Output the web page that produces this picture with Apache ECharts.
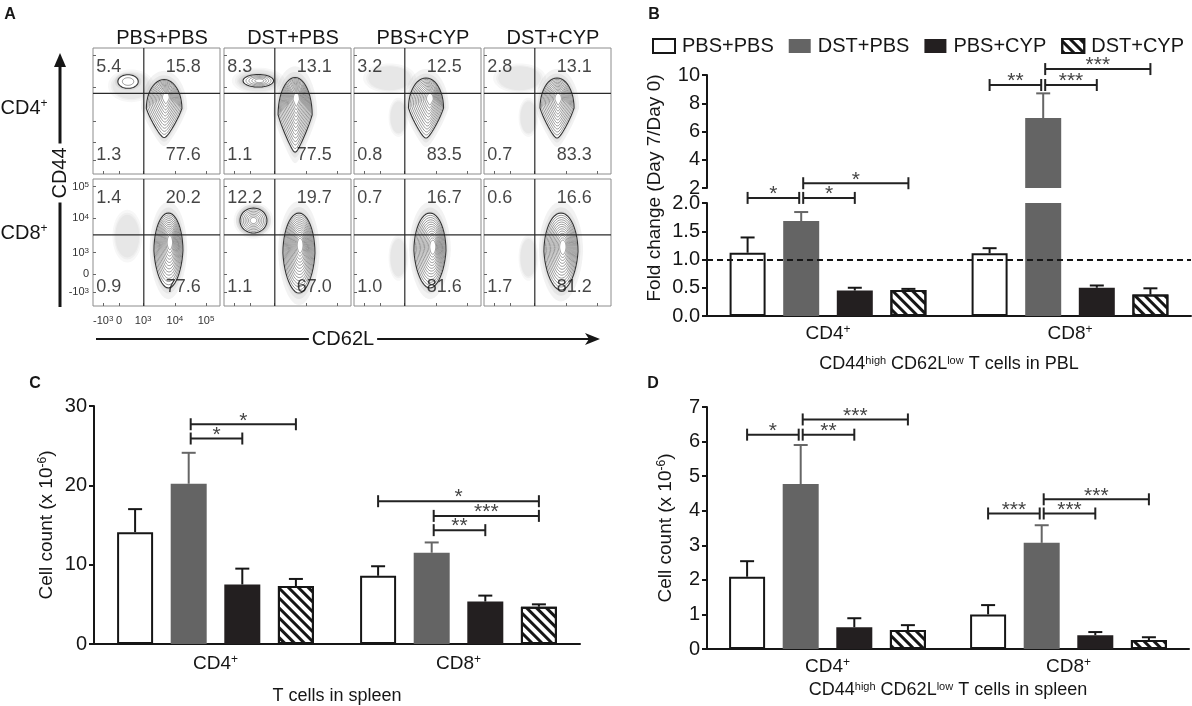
<!DOCTYPE html>
<html>
<head>
<meta charset="utf-8">
<script src="https://cdn.jsdelivr.net/npm/echarts@6/dist/echarts.min.js"></script>
<style>
html, body { margin: 0; padding: 0; background: #fff; }
#main { width: 1192px; height: 706px; }
</style>
</head>
<body>
<div id="main"></div>
<script>
// ---------- panel A : flow plots ----------
var flowCols = ['PBS+PBS', 'DST+PBS', 'PBS+CYP', 'DST+CYP'];
var flowRows = ['CD4', 'CD8'];
// quadrant percentages: upper-left, upper-right, lower-left, lower-right
var quadrantPct = [
    ['5.4', '15.8', '1.3', '77.6'],
    ['8.3', '13.1', '1.1', '77.5'],
    ['3.2', '12.5', '0.8', '83.5'],
    ['2.8', '13.1', '0.7', '83.3'],
    ['1.4', '20.2', '0.9', '77.6'],
    ['12.2', '19.7', '1.1', '67.0'],
    ['0.7', '16.7', '1.0', '81.6'],
    ['0.6', '16.6', '1.7', '81.2']
];
var gateX = 40;
var gateY = [64, 56];
var flowTickPosX = [8, 20.5, 39.5, 64.5, 89];
var flowTickPosY = [11, 25, 42, 69, 94];
var flowTickText = ['-10|3', '0', '10|3', '10|4', '10|5'];
// populations: [cx, cy, rx, ry, coreX, coreY, contours, taper]
var flowClusters = [
    [[30, 70, 14, 10, 30, 70, 0, 0], [56, 52, 14, 23, 57.5, 61, 12, 0.55], [27.6, 73.4, 8, 5.4, 27.6, 73.4, 2, 0]],
    [[27, 74, 16, 8, 27, 74, 0, 0], [56, 47, 13.4, 29.6, 57, 60, 14, 0.6], [27, 74, 12, 5, 28, 74, 5, 0]],
    [[28, 76, 16, 9, 28, 76, 0, 0], [35, 45, 6, 12, 35, 45, 0, 0], [56.7, 52.4, 13.8, 23.8, 60, 60, 12, 0.55]],
    [[28, 76, 16, 9, 28, 76, 0, 0], [35, 45, 6, 12, 35, 45, 0, 0], [57.5, 52.4, 13.4, 23.8, 58.5, 60, 12, 0.55]],
    [[27, 55, 9, 16, 27, 55, 0, 0], [59.4, 43.7, 11.4, 29.5, 60.6, 50.4, 13, 0.12]],
    [[23.2, 67.3, 12, 11, 23.2, 67.3, 0, 0], [59, 41.7, 12.6, 31.5, 60, 48, 14, 0.12], [23.2, 67.3, 10.6, 9.8, 23.2, 67.3, 7, 0]],
    [[35, 38, 6, 14, 35, 38, 0, 0], [59.8, 43.7, 12.6, 29.5, 62.2, 46.5, 13, 0.12]],
    [[35, 38, 6, 14, 35, 38, 0, 0], [60.6, 42.9, 13.4, 30.3, 62.2, 46.5, 13, 0.12]]
];

// ---------- panels B-D : bar charts ----------
var groups = ['PBS+PBS', 'DST+PBS', 'PBS+CYP', 'DST+CYP'];
var cellTypes = ['CD4', 'CD8'];
// rows = groups, columns = CD4, CD8
var pblMean = [[1.12, 1.11], [1.68, 6.95], [0.45, 0.50], [0.46, 0.38]];
var pblErr = [[1.39, 1.20], [1.84, 8.7], [0.50, 0.54], [0.48, 0.49]];
var spleenMean = [[14.1, 8.6], [20.2, 11.5], [7.5, 5.35], [7.3, 4.7]];
var spleenErr = [[17.0, 9.8], [24.1, 12.8], [9.5, 6.1], [8.2, 5.0]];
var memMean = [[2.09, 1.0], [4.77, 3.07], [0.63, 0.40], [0.55, 0.26]];
var memErr = [[2.54, 1.27], [5.9, 3.58], [0.89, 0.49], [0.69, 0.34]];
// significance: [cellType, fromGroup, toGroup, height, stars]
var pblSig = [[0, 0, 1, 2.09, '*'], [0, 1, 2, 2.09, '*'], [0, 1, 3, 2.35, '*'],
              [1, 0, 1, 9.29, '**'], [1, 1, 2, 9.29, '***'], [1, 1, 3, 10.42, '***']];
var spleenSig = [[0, 1, 2, 25.9, '*'], [0, 1, 3, 27.7, '*'], [1, 0, 3, 18.0, '*'],
                 [1, 1, 3, 16.15, '***'], [1, 1, 2, 14.35, '**']];
var memSig = [[0, 0, 1, 6.2, '*'], [0, 1, 2, 6.2, '**'], [0, 1, 3, 6.64, '***'],
              [1, 0, 1, 3.92, '***'], [1, 1, 2, 3.92, '***'], [1, 1, 3, 4.33, '***']];

var FONT = '"Liberation Sans", Arial, Helvetica, sans-serif';
var INK = '#161616';
var BAR_W = 36, BAR_STEP = 53.6;
var BAR_GAP = ((BAR_STEP - BAR_W) / BAR_W * 100).toFixed(1) + '%';
var ERR_COLOR = ['#161616', '#666666', '#161616', '#161616'];

var FLOW_LEFT = [93, 224, 354, 484], FLOW_W = 127;
var FLOW_TOP = [48, 179], FLOW_H = [126, 127];
var QUAD_X = [2.5, 71, 2.5, 71], QUAD_Y = [85, 85, 15, 15];

var barStyles = [
    { color: '#ffffff', borderColor: INK, borderWidth: 2 },
    { color: '#646464' },
    { color: '#231f20' },
    { color: '#ffffff', borderColor: INK, borderWidth: 2,
      decal: { symbol: 'rect', symbolSize: 1, color: '#161616', dashArrayX: [[1, 0]], dashArrayY: [3, 3.8], rotation: Math.PI / 4 } }
];

function sup(size) {
    return { s: { fontSize: size, verticalAlign: 'top', fontFamily: FONT, color: INK } };
}
function richSup(t) {
    var p = t.split('|');
    return p.length > 1 ? p[0] + '{s|' + p[1] + '}' : p[0];
}

var chart = echarts.init(document.getElementById('main'));
var grids = [], xAxes = [], yAxes = [], series = [];

function addGrid(g, xa, ya) {
    var i = grids.length;
    grids.push(g);
    xa.gridIndex = i;
    ya.gridIndex = i;
    xAxes.push(xa);
    yAxes.push(ya);
    return i;
}

// ---- flow plot drawing ----
function ring(api, cx, cy, rx, ry, taper) {
    var c = api.coord([cx, cy]);
    var sz = api.size([rx, ry]);
    var pts = [];
    for (var j = 0; j < 48; j++) {
        var a = j / 48 * Math.PI * 2;
        var dx = Math.cos(a), dy = Math.sin(a);
        var f = 1 - taper * Math.max(0, dy);
        pts.push([c[0] + sz[0] * dx * f, c[1] + sz[1] * dy]);
    }
    return pts;
}

function renderContours(params, api) {
    var cx = api.value(0), cy = api.value(1), rx = api.value(2), ry = api.value(3);
    var kx = api.value(4), ky = api.value(5), n = api.value(6), taper = api.value(7);
    var children = [];
    [1.3, 1.15, 1.05].forEach(function (f) {
        children.push({
            type: 'polygon', shape: { points: ring(api, cx, cy, rx * f, ry * f, taper) },
            style: { fill: n ? 'rgba(40,40,40,0.06)' : 'rgba(40,40,40,0.035)' }
        });
    });
    for (var k = 0; k < n; k++) {
        var t = k / n, s = 1 - 0.88 * t;
        children.push({
            type: 'polygon',
            shape: { points: ring(api, cx + (kx - cx) * t, cy + (ky - cy) * t, rx * s, ry * s, taper) },
            style: { fill: k === 0 ? '#ffffff' : 'none', stroke: k === 0 ? '#333' : '#555', lineWidth: k === 0 ? 1.1 : 0.6 }
        });
    }
    return { type: 'group', children: children };
}

function renderGate(params, api) {
    var gx = api.value(0), gy = api.value(1);
    var a = api.coord([gx, 0]), b = api.coord([gx, 100]);
    var c = api.coord([0, gy]), d = api.coord([100, gy]);
    var st = { stroke: '#2a2a2a', lineWidth: 1.2 };
    return {
        type: 'group', children: [
            { type: 'line', shape: { x1: a[0], y1: a[1], x2: b[0], y2: b[1] }, style: st },
            { type: 'line', shape: { x1: c[0], y1: c[1], x2: d[0], y2: d[1] }, style: st }
        ]
    };
}

function flowAxis(pos, showLabels, margin) {
    return {
        type: 'value', min: 0, max: 100,
        splitLine: { show: false },
        axisLine: { show: false },
        axisTick: { show: true, inside: true, length: 3, customValues: pos, lineStyle: { color: '#666' } },
        axisLabel: {
            show: showLabels, customValues: pos, margin: margin,
            fontSize: 11, fontFamily: FONT, color: '#333',
            formatter: function (v) {
                var k = pos.indexOf(v);
                return k < 0 ? '' : richSup(flowTickText[k]);
            },
            rich: { s: { fontSize: 8, verticalAlign: 'top', fontFamily: FONT, color: '#333' } }
        }
    };
}

for (var r = 0; r < 2; r++) {
    for (var c = 0; c < 4; c++) {
        (function (r, c) {
            var p = r * 4 + c, corner = (r === 1 && c === 0);
            var gi = addGrid(
                { left: FLOW_LEFT[c], top: FLOW_TOP[r], width: FLOW_W, height: FLOW_H[r], show: true, borderColor: '#8c8c8c', borderWidth: 1 },
                flowAxis(flowTickPosX, corner, 9),
                flowAxis(flowTickPosY, corner, 4)
            );
            series.push({ type: 'custom', xAxisIndex: gi, yAxisIndex: gi, data: flowClusters[p], renderItem: renderContours, clip: true, silent: true, z: 2 });
            series.push({ type: 'custom', xAxisIndex: gi, yAxisIndex: gi, data: [[gateX, gateY[r]]], renderItem: renderGate, silent: true, z: 3 });
            series.push({
                type: 'scatter', xAxisIndex: gi, yAxisIndex: gi, symbolSize: 0, silent: true, z: 4,
                data: quadrantPct[p].map(function (t, q) {
                    return { name: t, value: [QUAD_X[q], QUAD_Y[q]], label: { align: q % 2 ? 'center' : 'left' } };
                }),
                label: { show: true, position: 'inside', formatter: '{b}', fontSize: 18, fontFamily: FONT, color: INK }
            });
        })(r, c);
    }
}

// ---- bar charts ----
function catAxis(show) {
    return {
        type: 'category', data: cellTypes, show: show,
        axisLine: { lineStyle: { color: INK, width: 2 } },
        axisTick: { alignWithLabel: true, length: 6, lineStyle: { color: INK, width: 2 } },
        axisLabel: {
            fontSize: 19, fontFamily: FONT, color: INK, margin: 8,
            formatter: function (v) { return v + '{s|+}'; }, rich: sup(12)
        },
        nameLocation: 'middle',
        nameTextStyle: { fontSize: 18, fontFamily: FONT, color: INK, rich: sup(11) }
    };
}
function valAxis(min, max, interval) {
    return {
        type: 'value', min: min, max: max, interval: interval,
        splitLine: { show: false },
        axisLine: { show: true, lineStyle: { color: INK, width: 2 } },
        axisTick: { show: true, length: 5, lineStyle: { color: INK, width: 2 } },
        axisLabel: { fontSize: 20, fontFamily: FONT, color: INK, margin: 7 },
        nameLocation: 'middle',
        nameTextStyle: { fontSize: 19, fontFamily: FONT, color: INK, rich: sup(12) }
    };
}

function renderErr(params, api) {
    var k = api.value(0), g = api.value(1), top = api.value(2), mean = api.value(3);
    var t = api.coord([k, top]), b = api.coord([k, mean]);
    var x = t[0] + (g - 1.5) * BAR_STEP;
    var st = { stroke: ERR_COLOR[g], lineWidth: 2 };
    return {
        type: 'group', children: [
            { type: 'line', shape: { x1: x, y1: b[1], x2: x, y2: t[1] }, style: st },
            { type: 'line', shape: { x1: x - 7, y1: t[1], x2: x + 7, y2: t[1] }, style: st }
        ]
    };
}

function sigRenderer(list) {
    return function (params, api) {
        var s = list[params.dataIndex];
        var p = api.coord([s[0], s[3]]);
        var x1 = p[0] + (s[1] - 1.5) * BAR_STEP, x2 = p[0] + (s[2] - 1.5) * BAR_STEP;
        if (s[1] === 1) x1 += 2;
        if (s[2] === 1) x2 -= 2;
        var y = p[1];
        var st = { stroke: '#222', lineWidth: 2 };
        return {
            type: 'group', children: [
                { type: 'line', shape: { x1: x1, y1: y, x2: x2, y2: y }, style: st },
                { type: 'line', shape: { x1: x1, y1: y - 6, x2: x1, y2: y + 6 }, style: st },
                { type: 'line', shape: { x1: x2, y1: y - 6, x2: x2, y2: y + 6 }, style: st },
                { type: 'text', x: (x1 + x2) / 2, y: y + 7, style: { text: s[4], fontSize: 21, fontFamily: FONT, fill: '#444', align: 'center', verticalAlign: 'bottom' } }
            ]
        };
    };
}

function addBars(rect, xa, ya, means, errs, sigs, barKeep, errKeep, sigKeep) {
    var gi = addGrid(rect, xa, ya);
    var first = series.length;
    groups.forEach(function (name, g) {
        series.push({
            type: 'bar', name: name, xAxisIndex: gi, yAxisIndex: gi,
            barWidth: BAR_W, barGap: BAR_GAP, itemStyle: barStyles[g], silent: true, z: 2,
            data: means[g].map(function (v) { return barKeep(v) ? v : '-'; })
        });
    });
    var errData = [];
    groups.forEach(function (name, g) {
        cellTypes.forEach(function (ct, k) {
            if (errKeep(means[g][k], errs[g][k])) errData.push([k, g, errs[g][k], means[g][k]]);
        });
    });
    series.push({ type: 'custom', xAxisIndex: gi, yAxisIndex: gi, data: errData, encode: { x: 0, y: 2 }, renderItem: renderErr, silent: true, z: 3 });
    var sList = sigs.filter(sigKeep);
    series.push({
        type: 'custom', xAxisIndex: gi, yAxisIndex: gi, clip: false, silent: true, z: 4,
        data: sList.map(function (s) { return [s[0], s[3]]; }), encode: { x: 0, y: 1 },
        renderItem: sigRenderer(sList)
    });
    return { grid: gi, first: first };
}

// B upper segment (2 - 10)
addBars({ left: 707, top: 75, width: 484, height: 113 },
    catAxis(false), valAxis(2, 10, 2), pblMean, pblErr, pblSig,
    function (v) { return v > 2; },
    function (m, e) { return m > 2; },
    function (s) { return s[3] > 3; });

// B lower segment (0 - 2.0)
var bLow = addBars({ left: 707, top: 203, width: 484, height: 113 },
    catAxis(true), valAxis(0, 2, 0.5), pblMean, pblErr, pblSig,
    function (v) { return true; },
    function (m, e) { return e <= 2; },
    function (s) { return s[3] <= 3; });
xAxes[bLow.grid].name = 'CD44{s|high} CD62L{s|low} T cells in PBL';
xAxes[bLow.grid].nameGap = 39;
yAxes[bLow.grid].axisLabel.formatter = function (v) { return v.toFixed(1); };
series[bLow.first].markLine = {
    silent: true, symbol: ['none', 'none'], label: { show: false },
    lineStyle: { type: [6, 4], color: INK, width: 2 },
    data: [{ yAxis: 1 }]
};

// C
var cPanel = addBars({ left: 94, top: 406, width: 486, height: 241 },
    catAxis(true), valAxis(0, 30, 10), spleenMean, spleenErr, spleenSig,
    function () { return true; }, function () { return true; }, function () { return true; });
xAxes[cPanel.grid].name = 'T cells in spleen';
xAxes[cPanel.grid].nameGap = 43;
xAxes[cPanel.grid].axisLabel.margin = 10;
yAxes[cPanel.grid].name = 'Cell count (x 10{s|-6})';
yAxes[cPanel.grid].nameGap = 38;

// D
var dPanel = addBars({ left: 707, top: 407, width: 482, height: 242 },
    catAxis(true), valAxis(0, 7, 1), memMean, memErr, memSig,
    function () { return true; }, function () { return true; }, function () { return true; });
xAxes[dPanel.grid].name = 'CD44{s|high} CD62L{s|low} T cells in spleen';
xAxes[dPanel.grid].nameGap = 32;
yAxes[dPanel.grid].name = 'Cell count (x 10{s|-6})';
yAxes[dPanel.grid].nameGap = 32;

// ---- texts and arrows ----
function txt(t, x, y, size, extra) {
    var o = { type: 'text', x: x, y: y, silent: true,
        style: { text: t, fontSize: size, fontFamily: FONT, fill: INK, align: 'center', verticalAlign: 'middle', rich: sup(Math.round(size * 0.6)) } };
    if (extra) {
        for (var k in extra) {
            if (k === 'style') { for (var j in extra.style) o.style[j] = extra.style[j]; }
            else o[k] = extra[k];
        }
    }
    return o;
}
var bold = { style: { fontWeight: 'bold' } };
var graphics = [
    txt('A', 10, 15, 16, bold), txt('B', 654, 15, 16, bold),
    txt('C', 35, 384, 16, bold), txt('D', 653, 384, 16, bold),
    // CD44 arrow
    { type: 'line', silent: true, shape: { x1: 60, y1: 62, x2: 60, y2: 307 }, style: { stroke: INK, lineWidth: 3 } },
    { type: 'polygon', silent: true, shape: { points: [[60, 53], [54, 67], [66, 67]] }, style: { fill: INK } },
    txt('CD44', 60, 173, 20, { rotation: Math.PI / 2, style: { backgroundColor: '#fff', padding: [0, 4] } }),
    // CD62L arrow
    { type: 'line', silent: true, shape: { x1: 96, y1: 339, x2: 590, y2: 339 }, style: { stroke: INK, lineWidth: 2 } },
    { type: 'polygon', silent: true, shape: { points: [[600, 339], [585, 333], [589, 339], [585, 345]] }, style: { fill: INK } },
    txt('CD62L', 343, 339, 20, { style: { backgroundColor: '#fff', padding: [0, 3] } }),
    txt('Fold change (Day 7/Day 0)', 655, 188, 19, { rotation: Math.PI / 2 })
];
flowCols.forEach(function (t, c) { graphics.push(txt(t, FLOW_LEFT[c] + 69, 38, 20)); });
var ROW_Y = [108, 233];
flowRows.forEach(function (t, r) { graphics.push(txt(t + '{s|+}', 24, ROW_Y[r], 20)); });

chart.setOption({
    animation: false,
    backgroundColor: '#ffffff',
    textStyle: { fontFamily: FONT },
    legend: {
        top: 31, left: 647, itemWidth: 22, itemHeight: 14, itemGap: 15,
        selectedMode: false, icon: 'rect', data: groups,
        textStyle: { fontSize: 20, fontFamily: FONT, color: INK, padding: [0, 0, 0, 2] }
    },
    grid: grids,
    xAxis: xAxes,
    yAxis: yAxes,
    series: series,
    graphic: graphics
});
</script>
</body>
</html>
